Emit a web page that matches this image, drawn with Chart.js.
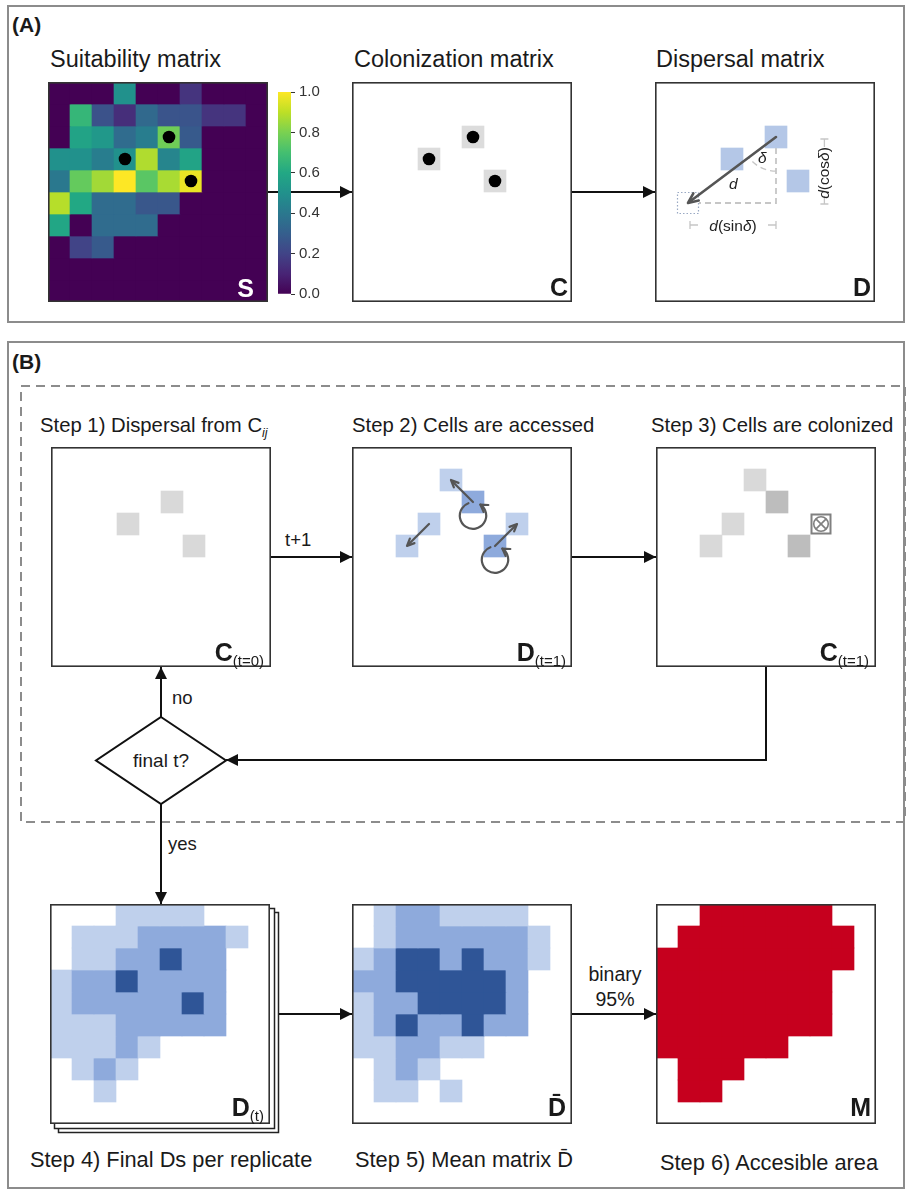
<!DOCTYPE html>
<html>
<head>
<meta charset="utf-8">
<script src="https://cdn.jsdelivr.net/npm/chart.js@4.4.1/dist/chart.umd.min.js"></script>
<style>
  body { margin: 0; background: #fff; width: 909px; height: 1191px; position: relative; overflow: hidden;
         font-family: "Liberation Sans", Arial, sans-serif; color: #1a1a1a; }
  canvas { position: absolute; }
  .t { position: absolute; white-space: nowrap; line-height: 1; }
  .title { font-size: 23.5px; }
  .step { font-size: 20.3px; }
  .foot { font-size: 21.8px; }
  .tag { font-size: 21px; font-weight: bold; }
  .lbl { position: absolute; white-space: nowrap; line-height: 1; transform: translateX(-100%); font-weight: bold; font-size: 25px; }
  .lbl small { font-size: 15px; font-weight: normal; position: relative; top: 5px; }
  .small { font-size: 18.5px; }
  .geo { font-size: 15.5px; color: #222; }
</style>
</head>
<body>
<svg width="909" height="1191" style="position:absolute;left:0;top:0">
  <defs>
    <marker id="ah" viewBox="0 0 12 12" refX="12" refY="6" markerWidth="12" markerHeight="12" markerUnits="userSpaceOnUse" orient="auto">
      <path d="M0,0 L12,6 L0,12 z" fill="#111"/>
    </marker>
  </defs>
  <rect x="8" y="6" width="896" height="316" fill="none" stroke="#8c8c8c" stroke-width="2"/>
  <rect x="8" y="342" width="896" height="846" fill="none" stroke="#8c8c8c" stroke-width="2"/>
  <rect x="21" y="386" width="884" height="436" fill="none" stroke="#8c8c8c" stroke-width="2" stroke-dasharray="9 6"/>
  <g stroke="#111" stroke-width="2" fill="none" marker-end="url(#ah)">
    <path d="M268,192 H352"/>
    <path d="M572,192 H655"/>
    <path d="M271,557 H352"/>
    <path d="M572,557 H656"/>
    <path d="M766,667 V760 H226"/>
    <path d="M161,717 V667"/>
    <path d="M161,804 V904"/>
    <path d="M278,1014 H352"/>
    <path d="M572,1014 H656"/>
  </g>
  <polygon points="161,717 226,760.5 161,804 96,760.5" fill="#fff" stroke="#111" stroke-width="2"/>
  <rect x="58.5" y="912.5" width="220" height="220" fill="#fff" stroke="#222" stroke-width="1.5"/>
  <rect x="54.5" y="908.5" width="220" height="220" fill="#fff" stroke="#222" stroke-width="1.5"/>
</svg>

<canvas id="suit" width="220" height="220" style="left:48px;top:82px"></canvas>
<canvas id="cbar" width="60" height="228" style="left:270px;top:79px"></canvas>
<canvas id="colon" width="220" height="220" style="left:352px;top:82px"></canvas>
<canvas id="disp" width="220" height="220" style="left:655px;top:82px"></canvas>
<canvas id="step1" width="220" height="220" style="left:51px;top:447px"></canvas>
<canvas id="step2" width="220" height="220" style="left:352px;top:447px"></canvas>
<canvas id="step3" width="220" height="220" style="left:656px;top:447px"></canvas>
<canvas id="step4" width="220" height="220" style="left:50px;top:904px"></canvas>
<canvas id="step5" width="220" height="220" style="left:352px;top:904px"></canvas>
<canvas id="step6" width="220" height="220" style="left:656px;top:904px"></canvas>

<div class="t tag" style="left:12px;top:14px">(A)</div>
<div class="t title" style="left:50px;top:48px">Suitability matrix</div>
<div class="t title" style="left:354px;top:48px">Colonization matrix</div>
<div class="t title" style="left:656px;top:48px">Dispersal matrix</div>
<div class="t tag" style="left:12px;top:351px">(B)</div>
<div class="t step" style="left:40px;top:415px">Step 1) Dispersal from C<sub style="font-size:12.5px;font-style:italic">ij</sub></div>
<div class="t step" style="left:352px;top:415px">Step 2) Cells are accessed</div>
<div class="t step" style="left:651px;top:415px">Step 3) Cells are colonized</div>
<div class="t small" style="left:285px;top:531px">t+1</div>
<div class="t small" style="left:172px;top:689px">no</div>
<div class="t" style="left:161px;top:751px;font-size:19px;transform:translateX(-50%)">final t?</div>
<div class="t small" style="left:168px;top:835px">yes</div>
<div class="t" style="left:615px;top:962px;font-size:19.5px;transform:translateX(-50%);text-align:center;line-height:25px">binary<br>95%</div>
<div class="t foot" style="left:30px;top:1149px">Step 4) Final Ds per replicate</div>
<div class="t foot" style="left:355px;top:1149px">Step 5) Mean matrix D̄</div>
<div class="t foot" style="left:660px;top:1152px">Step 6) Accesible area</div>

<div class="t geo" style="left:733px;top:218px;transform:translateX(-50%)"><i>d</i>(sin<i>δ</i>)</div>
<div class="t geo" style="left:824px;top:173px;transform:translate(-50%,-50%) rotate(-90deg)"><i>d</i>(cos<i>δ</i>)</div>
<div class="t geo" style="left:758px;top:150px;font-style:italic">δ</div>
<div class="t geo" style="left:729px;top:176px;font-style:italic">d</div>

<div class="lbl" style="left:254px;top:276px;color:#fff">S</div>
<div class="lbl" style="left:568px;top:275px">C</div>
<div class="lbl" style="left:871px;top:275px">D</div>
<div class="lbl" style="left:264px;top:640px">C<small>(t=0)</small></div>
<div class="lbl" style="left:566px;top:640px">D<small>(t=1)</small></div>
<div class="lbl" style="left:869px;top:640px">C<small>(t=1)</small></div>
<div class="lbl" style="left:264px;top:1095px">D<small>(t)</small></div>
<div class="lbl" style="left:566px;top:1095px">D̄</div>
<div class="lbl" style="left:871px;top:1095px">M</div>

<script>
// ---- data ----
const colLabels = ['0', '1', '2', '3', '4', '5', '6', '7', '8', '9'];

// suitability (0..1), row 0 = top
const suit0 = [0, 0, 0, 0.50, 0, 0, 0.15, 0, 0, 0];
const suit1 = [0, 0.66, 0.25, 0.13, 0.34, 0.26, 0.26, 0.15, 0.15, 0];
const suit2 = [0, 0.58, 0.53, 0.35, 0.42, 0.78, 0.28, 0, 0, 0];
const suit3 = [0.50, 0.50, 0.42, 0.50, 0.88, 0.45, 0.58, 0, 0, 0];
const suit4 = [0.40, 0.76, 0.86, 1.00, 0.74, 0.87, 0.97, 0, 0, 0];
const suit5 = [0.89, 0.60, 0.35, 0.35, 0.27, 0.27, 0, 0, 0, 0];
const suit6 = [0.59, 0, 0.35, 0.35, 0.35, 0, 0, 0, 0, 0];
const suit7 = [0, 0.20, 0.28, 0, 0, 0, 0, 0, 0, 0];
const suit8 = [0, 0, 0, 0, 0, 0, 0, 0, 0, 0];
const suit9 = [0, 0, 0, 0, 0, 0, 0, 0, 0, 0];
const cbarTicks = [0, 0.2, 0.4, 0.6, 0.8, 1.0];

// sparse cells [row, col]
const colonizedCells = [[2, 5], [3, 3], [4, 6]];
const dispersalTarget = [5, 1];
const accessedNew = [[1, 4], [3, 3], [4, 2], [3, 7]];
const accessedStay = [[2, 5], [4, 6]];
const moves = [[[2, 5], [1, 4]], [[3, 3], [4, 2]], [[4, 6], [3, 7]]];
const loops = [[2, 5], [4, 6]];
const colonizedNew = [[1, 4], [3, 3], [4, 2]];
const colonizedKept = [[2, 5], [4, 6]];
const blockedCells = [[3, 7]];

// final D per replicate (0 none, 1 light, 2 mid, 3 dark)
const rep0 = [0, 0, 0, 1, 1, 1, 1, 0, 0, 0];
const rep1 = [0, 1, 1, 1, 2, 2, 2, 2, 1, 0];
const rep2 = [0, 1, 1, 2, 2, 3, 2, 2, 0, 0];
const rep3 = [1, 2, 2, 3, 2, 2, 2, 2, 0, 0];
const rep4 = [1, 2, 2, 2, 2, 2, 3, 2, 0, 0];
const rep5 = [1, 1, 1, 2, 2, 2, 2, 2, 0, 0];
const rep6 = [1, 1, 1, 2, 1, 0, 0, 0, 0, 0];
const rep7 = [0, 1, 2, 1, 0, 0, 0, 0, 0, 0];
const rep8 = [0, 0, 1, 0, 0, 0, 0, 0, 0, 0];
const rep9 = [0, 0, 0, 0, 0, 0, 0, 0, 0, 0];

// mean D
const mean0 = [0, 1, 2, 2, 1, 1, 1, 1, 0, 0];
const mean1 = [0, 1, 2, 2, 2, 2, 2, 2, 1, 0];
const mean2 = [1, 2, 3, 3, 2, 3, 2, 2, 1, 0];
const mean3 = [2, 2, 3, 3, 3, 3, 3, 2, 0, 0];
const mean4 = [1, 2, 2, 3, 3, 3, 3, 2, 0, 0];
const mean5 = [1, 2, 3, 2, 2, 3, 2, 2, 0, 0];
const mean6 = [1, 1, 2, 2, 1, 1, 0, 0, 0, 0];
const mean7 = [0, 1, 2, 1, 0, 0, 0, 0, 0, 0];
const mean8 = [0, 1, 1, 0, 1, 0, 0, 0, 0, 0];
const mean9 = [0, 0, 0, 0, 0, 0, 0, 0, 0, 0];

// accessible area (binary)
const area0 = [0, 0, 1, 1, 1, 1, 1, 1, 0, 0];
const area1 = [0, 1, 1, 1, 1, 1, 1, 1, 1, 0];
const area2 = [1, 1, 1, 1, 1, 1, 1, 1, 1, 0];
const area3 = [1, 1, 1, 1, 1, 1, 1, 1, 0, 0];
const area4 = [1, 1, 1, 1, 1, 1, 1, 1, 0, 0];
const area5 = [1, 1, 1, 1, 1, 1, 1, 1, 0, 0];
const area6 = [1, 1, 1, 1, 1, 1, 0, 0, 0, 0];
const area7 = [0, 1, 1, 1, 0, 0, 0, 0, 0, 0];
const area8 = [0, 1, 1, 0, 0, 0, 0, 0, 0, 0];
const area9 = [0, 0, 0, 0, 0, 0, 0, 0, 0, 0];

// ---- colours ----
const viridisStops = ['#440154', '#482475', '#414487', '#355f8d', '#2a788e', '#21918c',
                      '#22a884', '#44bf70', '#7ad151', '#bddf26', '#fde725'];
const blues = [null, '#bfd0ec', '#8eaadc', '#2f5597'];
const grays = [null, '#d9d9d9', '#bdbdbd'];
const red = '#c6001e';

function hex(h) { return [1, 3, 5].map(i => parseInt(h.substr(i, 2), 16)); }
function viridis(v) {
  const p = Math.max(0, Math.min(1, v)) * (viridisStops.length - 1);
  const i = Math.min(Math.floor(p), viridisStops.length - 2), f = p - i;
  const a = hex(viridisStops[i]), b = hex(viridisStops[i + 1]);
  return 'rgb(' + a.map((x, k) => Math.round(x + (b[k] - x) * f)).join(',') + ')';
}

function gridOf(cellLists) {
  // cellLists: [[cells, level], ...] -> 10x10 level grid
  const g = colLabels.map(() => colLabels.map(() => 0));
  cellLists.forEach(([cells, lvl]) => cells.forEach(([r, c]) => { g[r][c] = lvl; }));
  return g;
}

function rowDatasets(rows, colorOf, keepZero) {
  return rows.map((vals, r) => ({
    data: vals.map(v => (v || keepZero) ? [r, r + 1] : null),
    backgroundColor: vals.map(v => colorOf(v) || 'rgba(0,0,0,0)'),
    grouped: false,
    barPercentage: 1,
    categoryPercentage: 1,
    borderWidth: 0
  }));
}

function dotDataset(cells) {
  return {
    type: 'scatter', order: -1,
    data: cells.map(([r, c]) => ({ x: String(c), y: r + 0.5 })),
    backgroundColor: '#000', borderWidth: 0, pointRadius: 6.3
  };
}

const panelFrame = {
  id: 'panelFrame',
  beforeDraw(chart) {
    const c = chart.ctx;
    c.save(); c.fillStyle = '#fff'; c.fillRect(0, 0, chart.width, chart.height); c.restore();
  },
  afterDraw(chart) {
    const c = chart.ctx;
    c.save(); c.strokeStyle = '#333'; c.lineWidth = 1.6;
    c.strokeRect(0.8, 0.8, chart.width - 1.6, chart.height - 1.6); c.restore();
  }
};

function cellGeo(chart) {
  const xs = chart.scales.x, ys = chart.scales.y;
  return {
    x: c => xs.getPixelForValue(c),
    y: r => ys.getPixelForValue(r + 0.5),
    size: xs.getPixelForValue(1) - xs.getPixelForValue(0)
  };
}

function arrow(c, x1, y1, x2, y2, head, color, lw) {
  const a = Math.atan2(y2 - y1, x2 - x1);
  c.save();
  c.strokeStyle = color; c.fillStyle = color; c.lineWidth = lw; c.lineCap = 'round'; c.lineJoin = 'round';
  c.beginPath(); c.moveTo(x1, y1); c.lineTo(x2 - Math.cos(a) * 2, y2 - Math.sin(a) * 2); c.stroke();
  c.beginPath();
  c.moveTo(x2 - head * Math.cos(a - 0.42), y2 - head * Math.sin(a - 0.42));
  c.lineTo(x2, y2);
  c.lineTo(x2 - head * Math.cos(a + 0.42), y2 - head * Math.sin(a + 0.42));
  c.stroke();
  c.restore();
}

function matrixChart(id, datasets, plugins) {
  return new Chart(document.getElementById(id), {
    type: 'bar',
    data: { labels: colLabels, datasets },
    options: {
      responsive: false, animation: false, devicePixelRatio: 1,
      layout: { padding: 0, autoPadding: false },
      plugins: { legend: { display: false }, tooltip: { enabled: false } },
      scales: {
        x: { display: false, offset: true },
        y: { display: false, min: 0, max: 10, reverse: true }
      }
    },
    plugins: [panelFrame].concat(plugins || [])
  });
}

// (A) suitability
const suitRows = [suit0, suit1, suit2, suit3, suit4, suit5, suit6, suit7, suit8, suit9];
matrixChart('suit', rowDatasets(suitRows, viridis, true).concat([dotDataset(colonizedCells)]));

// colour bar
new Chart(document.getElementById('cbar'), {
  type: 'bar',
  data: { labels: ['v'], datasets: [{
    data: [[0, 1]], barPercentage: 1, categoryPercentage: 1, borderWidth: 0,
    backgroundColor: ctx => {
      const area = ctx.chart.chartArea;
      if (!area) return viridisStops[5];
      const g = ctx.chart.ctx.createLinearGradient(0, area.bottom, 0, area.top);
      viridisStops.forEach((col, i) => g.addColorStop(i / (viridisStops.length - 1), col));
      return g;
    }
  }] },
  options: {
    responsive: false, animation: false, devicePixelRatio: 1,
    layout: { padding: { left: 8, top: 0, bottom: 0, right: 0 } },
    plugins: { legend: { display: false }, tooltip: { enabled: false } },
    scales: {
      x: { display: false },
      y: {
        position: 'right', min: 0, max: 1,
        afterBuildTicks: s => { s.ticks = cbarTicks.map(v => ({ value: v })); },
        afterFit: s => { s.width = 39; },
        ticks: { callback: v => Number(v).toFixed(1), color: '#333', padding: 4,
                 font: { family: 'Liberation Sans', size: 15 } },
        grid: { drawOnChartArea: false, tickLength: 4, color: '#333' },
        border: { display: false }
      }
    }
  }
});

// colonization matrix
matrixChart('colon', rowDatasets(gridOf([[colonizedCells, 1]]), v => v && '#dcdcdc')
  .concat([dotDataset(colonizedCells)]));

// dispersal matrix
matrixChart('disp', rowDatasets(gridOf([[colonizedCells, 1]]), v => v && '#b4c7e7'), [{
  id: 'dispGeo',
  afterDatasetsDraw(chart) {
    const g = cellGeo(chart), c = chart.ctx;
    const [sr, sc] = colonizedCells[0], [tr, tc] = dispersalTarget;
    const sx = g.x(sc), sy = g.y(sr), tx = g.x(tc), ty = g.y(tr), h = g.size / 2;
    c.save();
    // target cell
    c.strokeStyle = '#9aa9c4'; c.lineWidth = 1.2; c.setLineDash([1.5, 2]);
    c.strokeRect(tx - h + 0.5, ty - h + 0.5, g.size - 1, g.size - 1);
    // guide lines
    c.strokeStyle = '#c6c6c6'; c.lineWidth = 1.8; c.setLineDash([6, 4]);
    c.beginPath(); c.moveTo(sx, sy + h); c.lineTo(sx, ty); c.lineTo(tx + h, ty); c.stroke();
    c.lineWidth = 1.4;
    c.beginPath(); c.arc(sx, sy, g.size * 1.55, Math.PI / 2, Math.atan2(ty - sy, tx - sx)); c.stroke();
    // dimension marks
    c.setLineDash([]); c.lineWidth = 1.3; c.strokeStyle = '#c6c6c6';
    const dy = ty + g.size, dx = sx + g.size * 2.2;
    c.beginPath();
    c.moveTo(tx + 2, dy - 4); c.lineTo(tx + 2, dy + 4); c.moveTo(tx + 2, dy); c.lineTo(tx + 10, dy);
    c.moveTo(sx, dy - 4); c.lineTo(sx, dy + 4); c.moveTo(sx, dy); c.lineTo(sx - 8, dy);
    c.moveTo(dx - 4, sy + 2); c.lineTo(dx + 4, sy + 2); c.moveTo(dx, sy + 2); c.lineTo(dx, sy + 10);
    c.moveTo(dx - 4, ty + 1); c.lineTo(dx + 4, ty + 1); c.moveTo(dx, ty + 1); c.lineTo(dx, ty - 7);
    c.stroke();
    c.restore();
    arrow(c, sx, sy, tx, ty, 11, '#555', 2.6);
  }
}]);

// step 1
matrixChart('step1', rowDatasets(gridOf([[colonizedCells, 1]]), v => grays[v]));

// step 2
matrixChart('step2', rowDatasets(gridOf([[accessedNew, 1], [accessedStay, 2]]), v => blues[v]), [{
  id: 'moves',
  afterDatasetsDraw(chart) {
    const g = cellGeo(chart), c = chart.ctx;
    moves.forEach(([[r1, c1], [r2, c2]]) => arrow(c, g.x(c1), g.y(r1), g.x(c2), g.y(r2), 8, '#555', 2.2));
    loops.forEach(([r, col]) => {
      const x = g.x(col), y = g.y(r) + g.size * 0.62, rad = g.size * 0.6;
      const a0 = -Math.PI / 3.2;
      c.save(); c.strokeStyle = '#555'; c.lineWidth = 2.2; c.lineCap = 'round'; c.lineJoin = 'round';
      c.beginPath(); c.arc(x, y, rad, a0, a0 + Math.PI * 1.7); c.stroke();
      const ex = x + rad * Math.cos(a0), ey = y + rad * Math.sin(a0);
      const dir = Math.atan2(-Math.cos(a0), Math.sin(a0));
      c.beginPath();
      c.moveTo(ex - 8 * Math.cos(dir - 0.55), ey - 8 * Math.sin(dir - 0.55));
      c.lineTo(ex, ey);
      c.lineTo(ex - 8 * Math.cos(dir + 0.55), ey - 8 * Math.sin(dir + 0.55));
      c.stroke(); c.restore();
    });
  }
}]);

// step 3
matrixChart('step3', rowDatasets(gridOf([[colonizedNew, 1], [colonizedKept, 2]]), v => grays[v]), [{
  id: 'blocked',
  afterDatasetsDraw(chart) {
    const g = cellGeo(chart), c = chart.ctx, h = g.size / 2;
    blockedCells.forEach(([r, col]) => {
      const x = g.x(col), y = g.y(r), rad = g.size * 0.33, k = rad * Math.SQRT1_2;
      c.save(); c.strokeStyle = '#808080'; c.lineWidth = 2;
      c.strokeRect(x - h + 1.5, y - h + 1.5, g.size - 3, g.size - 3);
      c.lineWidth = 1.6;
      c.beginPath(); c.arc(x, y, rad, 0, Math.PI * 2); c.stroke();
      c.beginPath(); c.moveTo(x - k, y - k); c.lineTo(x + k, y + k); c.moveTo(x + k, y - k); c.lineTo(x - k, y + k); c.stroke();
      c.restore();
    });
  }
}]);

// step 4-6
matrixChart('step4', rowDatasets([rep0, rep1, rep2, rep3, rep4, rep5, rep6, rep7, rep8, rep9], v => blues[v]));
matrixChart('step5', rowDatasets([mean0, mean1, mean2, mean3, mean4, mean5, mean6, mean7, mean8, mean9], v => blues[v]));
matrixChart('step6', rowDatasets([area0, area1, area2, area3, area4, area5, area6, area7, area8, area9], v => v ? red : null));
</script>
</body>
</html>
